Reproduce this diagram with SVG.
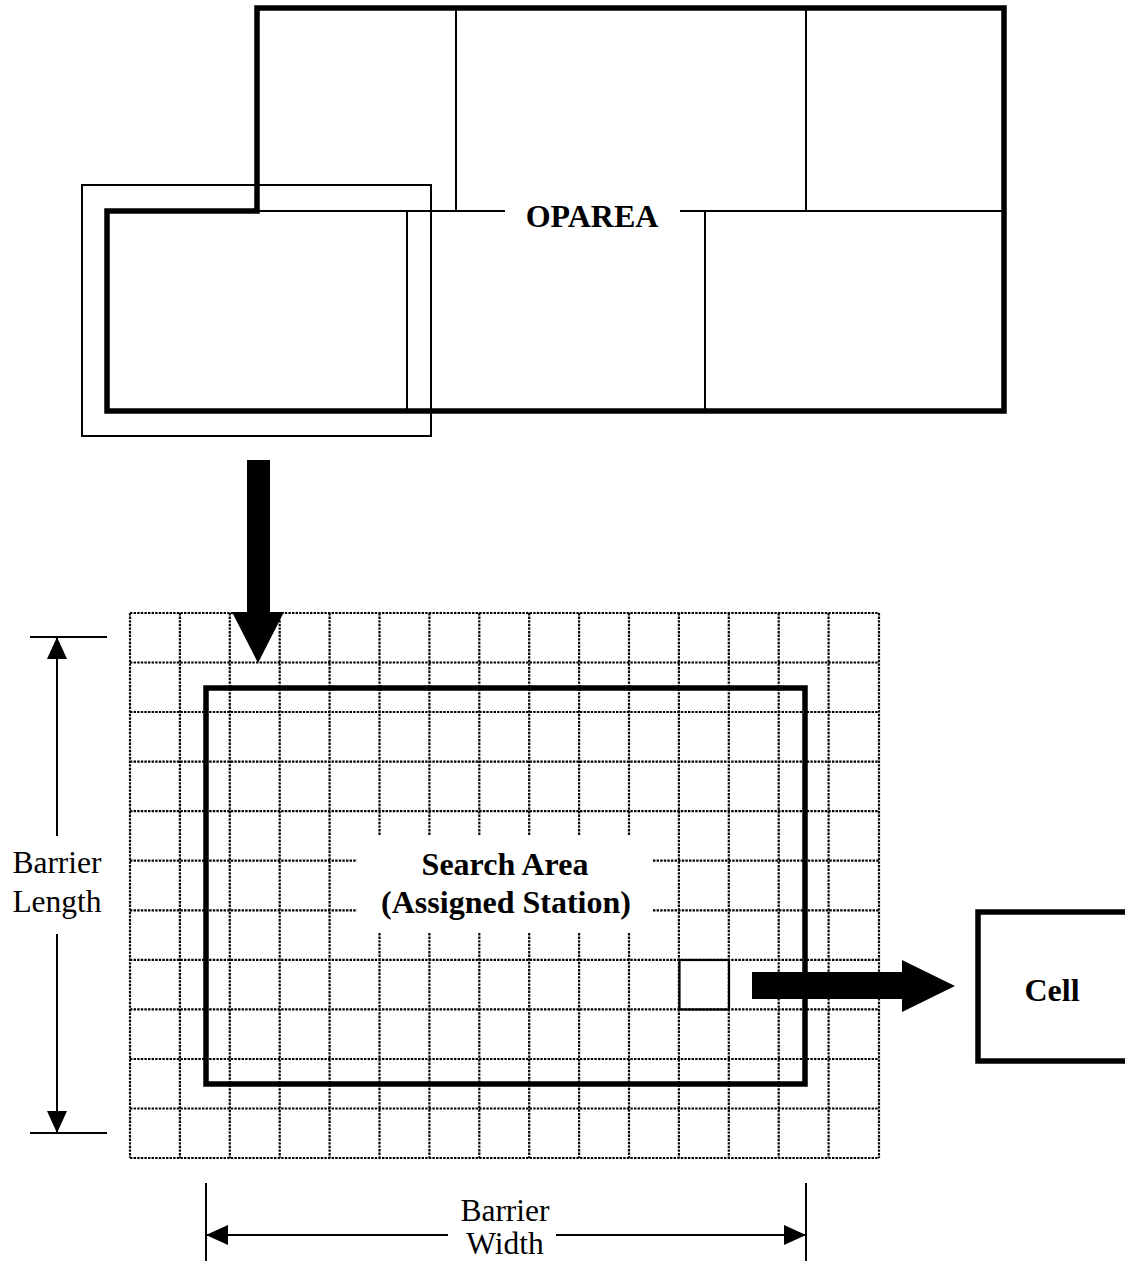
<svg xmlns="http://www.w3.org/2000/svg" width="1125" height="1262" viewBox="0 0 1125 1262">
<style>
.thick{fill:none;stroke:#000;stroke-width:5.5;stroke-linejoin:miter}
.thin{fill:none;stroke:#000;stroke-width:2}
.dot{fill:none;stroke:#000;stroke-width:2.2;stroke-dasharray:2.4 1.2}
.lbl{font-family:"Liberation Serif","Times New Roman",serif;font-weight:bold;font-size:32px;fill:#000;text-anchor:middle}
.reg{font-family:"Liberation Serif","Times New Roman",serif;font-size:31.5px;fill:#000;text-anchor:middle}
.fill{fill:#000;stroke:none}
</style>
<defs>
<marker id="ahL" viewBox="0 0 22 20" refX="22" refY="10" markerWidth="22" markerHeight="20" markerUnits="userSpaceOnUse" orient="auto">
<path d="M0,0 L22,10 L0,20 z" fill="#000"/>
</marker>
</defs>
<rect x="0" y="0" width="1125" height="1262" fill="#fff"/>

<g id="oparea">
<line class="thin" x1="456" y1="8" x2="456" y2="211"/>
<line class="thin" x1="806" y1="8" x2="806" y2="211"/>
<line class="thin" x1="257" y1="211" x2="505" y2="211"/>
<line class="thin" x1="680" y1="211" x2="1003" y2="211"/>
<line class="thin" x1="407" y1="211" x2="407" y2="411"/>
<line class="thin" x1="705" y1="211" x2="705" y2="411"/>
<path class="thick" d="M257,8 H1004 V411 H107 V211 H257 Z"/>
<text class="lbl" x="592" y="227">OPAREA</text>
</g>

<g id="selected-area">
<rect class="thin" x="82" y="185" width="349" height="251"/>
</g>

<g id="grid">
<path class="dot" d="
M130,613 V1158 M179.9,613 V1158 M229.8,613 V1158 M279.7,613 V1158 M329.6,613 V1158
M379.5,613 V835 M379.5,933 V1158
M429.4,613 V835 M429.4,933 V1158
M479.3,613 V835 M479.3,933 V1158
M529.2,613 V835 M529.2,933 V1158
M579.1,613 V835 M579.1,933 V1158
M629,613 V835 M629,933 V1158
M678.9,613 V1158 M728.8,613 V1158 M778.7,613 V1158 M828.6,613 V1158 M879,613 V1158
M130,613 H879 M130,662.5 H879 M130,712 H879 M130,761.6 H879 M130,811.2 H879
M130,860.7 H357 M653,860.7 H879
M130,910.3 H357 M653,910.3 H879
M130,959.8 H879 M130,1009.4 H879 M130,1059 H879 M130,1108.5 H879 M130,1158 H879"/>
</g>

<g id="search-area">
<rect class="thick" x="206" y="688" width="599" height="396"/>
<text class="lbl" x="505" y="875">Search Area</text>
<text class="lbl" x="506" y="913">(Assigned Station)</text>
</g>

<g id="cell-square">
<rect x="679.5" y="960" width="49.5" height="49.5" fill="none" stroke="#000" stroke-width="2.2"/>
</g>

<g id="cell">
<rect class="thick" x="978" y="912" width="160" height="149"/>
<text class="lbl" x="1052" y="1001">Cell</text>
</g>

<g id="connectors">
<polygon class="fill" points="247,460 270,460 270,612 284,612 258,663 232,612 247,612"/>
<polygon class="fill" points="752,972 902,972 902,960 955,986 902,1012 902,999 752,999"/>
<line class="thin" x1="30" y1="637" x2="107" y2="637"/>
<line class="thin" x1="30" y1="1133" x2="107" y2="1133"/>
<line class="thin" x1="57" y1="836" x2="57" y2="637" marker-end="url(#ahL)"/>
<line class="thin" x1="57" y1="934" x2="57" y2="1133" marker-end="url(#ahL)"/>
<line class="thin" x1="206" y1="1183" x2="206" y2="1261"/>
<line class="thin" x1="806" y1="1183" x2="806" y2="1261"/>
<line class="thin" x1="448" y1="1235" x2="206" y2="1235" marker-end="url(#ahL)"/>
<line class="thin" x1="556" y1="1235" x2="806" y2="1235" marker-end="url(#ahL)"/>
</g>

<g id="labels">
<text class="reg" x="57" y="873">Barrier</text>
<text class="reg" x="57" y="912">Length</text>
<text class="reg" x="505" y="1221">Barrier</text>
<text class="reg" x="505" y="1254">Width</text>
</g>
</svg>
